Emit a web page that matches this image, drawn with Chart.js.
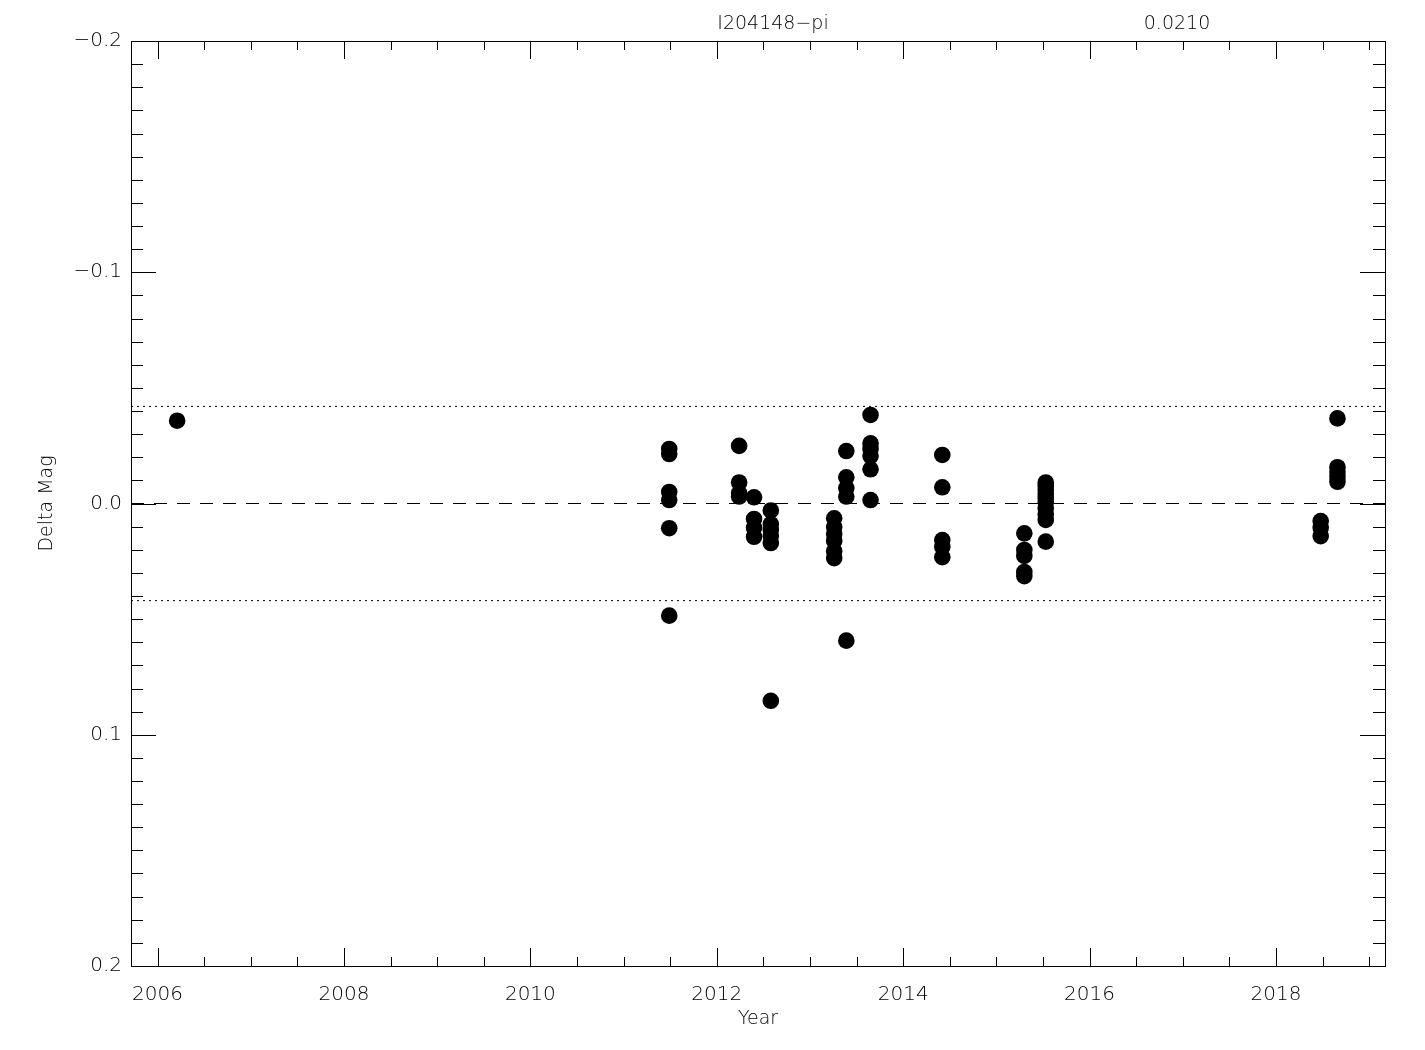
<!DOCTYPE html>
<html>
<head>
<meta charset="utf-8">
<script src="https://cdn.jsdelivr.net/npm/chart.js@4/dist/chart.umd.min.js"></script>
<style>
  html, body { margin: 0; padding: 0; background: #fff; }
  #wrap { width: 1425px; height: 1050px; }
</style>
</head>
<body>
<div id="wrap"><canvas id="c" width="1425" height="1050"></canvas></div>
<script>
// Delta mag light curve, I204148-pi (sigma 0.0210)
const titleText = "I204148\u2212pi";
const sigmaText = "0.0210";

const xMin = 2005.715, xMax = 2019.17;
const yMin = -0.2, yMax = 0.2;
const xMajorTicks = [2006, 2008, 2010, 2012, 2014, 2016, 2018];
const yMajorTicks = [-0.2, -0.1, 0.0, 0.1, 0.2];
const limit = 0.042;

// observation epochs (decimal year) and delta mag
const years = [
  2006.21,
  2011.49, 2011.49, 2011.49, 2011.49, 2011.49, 2011.49,
  2012.24, 2012.24, 2012.24, 2012.24,
  2012.40, 2012.40, 2012.40, 2012.40,
  2012.58, 2012.58, 2012.58, 2012.58, 2012.58, 2012.58,
  2013.26, 2013.26, 2013.26, 2013.26, 2013.26, 2013.26,
  2013.39, 2013.39, 2013.39, 2013.39, 2013.39,
  2013.65, 2013.65, 2013.65, 2013.65, 2013.65, 2013.65,
  2014.42, 2014.42, 2014.42, 2014.42, 2014.42,
  2015.30, 2015.30, 2015.30, 2015.30, 2015.30,
  2015.53, 2015.53, 2015.53, 2015.53, 2015.53, 2015.53, 2015.53, 2015.53, 2015.53, 2015.53,
  2018.48, 2018.48, 2018.48,
  2018.66, 2018.66, 2018.66, 2018.66, 2018.66
];
const deltaMag = [
  -0.0358,
  -0.0236, -0.0214, -0.0050, -0.0015, 0.0107, 0.0485,
  -0.0249, -0.0091, -0.0045, -0.0030,
  -0.0027, 0.0067, 0.0105, 0.0144,
  0.0030, 0.0089, 0.0114, 0.0141, 0.0171, 0.0853,
  0.0064, 0.0102, 0.0132, 0.0162, 0.0206, 0.0236,
  -0.0227, -0.0113, -0.0067, -0.0030, 0.0593,
  -0.0383, -0.0260, -0.0236, -0.0205, -0.0148, -0.0015,
  -0.0210, -0.0070, 0.0158, 0.0188, 0.0232,
  0.0129, 0.0201, 0.0227, 0.0296, 0.0314,
  -0.0091, -0.0076, -0.0058, -0.0041, -0.0024, -0.0006, 0.0020, 0.0046, 0.0071, 0.0165,
  0.0076, 0.0105, 0.0141,
  -0.0368, -0.0157, -0.0136, -0.0115, -0.0094
];

const FONT = "'DejaVu Sans', 'Liberation Sans', sans-serif";

function fmtMag(v) {
  const s = Math.abs(v).toFixed(1);
  return v < -1e-9 ? "\u2212" + s : s;
}

// IDL-style inward ticks on all four sides, plus the frame and text
const framePlugin = {
  id: "frame",
  afterDraw(chart) {
    const { ctx, chartArea: a, scales: { x, y } } = chart;
    ctx.save();
    ctx.strokeStyle = "#000";
    ctx.lineWidth = 1;
    ctx.strokeRect(a.left + 0.5, a.top + 0.5, a.right - a.left, a.bottom - a.top);
    ctx.beginPath();
    for (let v = 2006; v <= 2019; v += 0.5) {
      const px = Math.round(x.getPixelForValue(v)) + 0.5;
      const len = (v % 2 === 0) ? 18 : 9;
      ctx.moveTo(px, a.bottom); ctx.lineTo(px, a.bottom - len);
      ctx.moveTo(px, a.top); ctx.lineTo(px, a.top + len);
    }
    for (let i = -20; i <= 20; i++) {
      const v = i / 100;
      const py = Math.round(y.getPixelForValue(v)) + 0.5;
      const len = (i % 10 === 0) ? 25 : 12;
      ctx.moveTo(a.left, py); ctx.lineTo(a.left + len, py);
      ctx.moveTo(a.right, py); ctx.lineTo(a.right - len, py);
    }
    ctx.stroke();

    ctx.fillStyle = "#000";
    ctx.font = "200 19px " + FONT;
    ctx.textAlign = "center";
    ctx.textBaseline = "middle";
    ctx.fillText(titleText, 773, 24);
    ctx.fillText(sigmaText, 1177, 24);
    ctx.fillText("Year", (a.left + a.right) / 2, 1019);
    ctx.translate(47, (a.top + a.bottom) / 2);
    ctx.rotate(-Math.PI / 2);
    ctx.fillText("Delta Mag", 0, 0);
    ctx.restore();
  }
};

new Chart(document.getElementById("c"), {
  type: "scatter",
  data: {
    datasets: [
      {
        label: "zero",
        type: "line",
        data: [{ x: xMin, y: 0 }, { x: xMax, y: 0 }],
        borderColor: "#000", borderWidth: 1, borderDash: [13, 10],
        pointRadius: 0
      },
      {
        label: "upper",
        type: "line",
        data: [{ x: xMin, y: -limit }, { x: xMax, y: -limit }],
        borderColor: "#000", borderWidth: 1, borderDash: [2, 4],
        pointRadius: 0
      },
      {
        label: "lower",
        type: "line",
        data: [{ x: xMin, y: limit }, { x: xMax, y: limit }],
        borderColor: "#000", borderWidth: 1, borderDash: [2, 4],
        pointRadius: 0
      },
      {
        label: "obs",
        data: years.map((t, i) => ({ x: t, y: deltaMag[i] })),
        backgroundColor: "#000", borderWidth: 0,
        pointRadius: 8.3, pointHoverRadius: 8.3
      }
    ]
  },
  options: {
    responsive: false,
    animation: false,
    layout: { padding: { top: 41, right: 40, bottom: 0, left: 0 } },
    plugins: { legend: { display: false }, tooltip: { enabled: false } },
    scales: {
      x: {
        type: "linear", min: xMin, max: xMax,
        grid: { display: false, drawTicks: false },
        border: { display: false },
        afterBuildTicks: s => { s.ticks = xMajorTicks.map(v => ({ value: v })); },
        afterFit: s => { s.height = 84; },
        ticks: {
          color: "#000", padding: 17, maxRotation: 0, autoSkip: false,
          font: { family: FONT, size: 20, weight: 200 },
          callback: v => String(v)
        }
      },
      y: {
        type: "linear", min: yMin, max: yMax, reverse: true,
        grid: { display: false, drawTicks: false },
        border: { display: false },
        afterBuildTicks: s => { s.ticks = yMajorTicks.map(v => ({ value: v })); },
        afterFit: s => { s.width = 131; },
        ticks: {
          color: "#000", padding: 9, autoSkip: false,
          font: { family: FONT, size: 20, weight: 200 },
          callback: v => fmtMag(v)
        }
      }
    }
  },
  plugins: [framePlugin]
});
</script>
</body>
</html>
